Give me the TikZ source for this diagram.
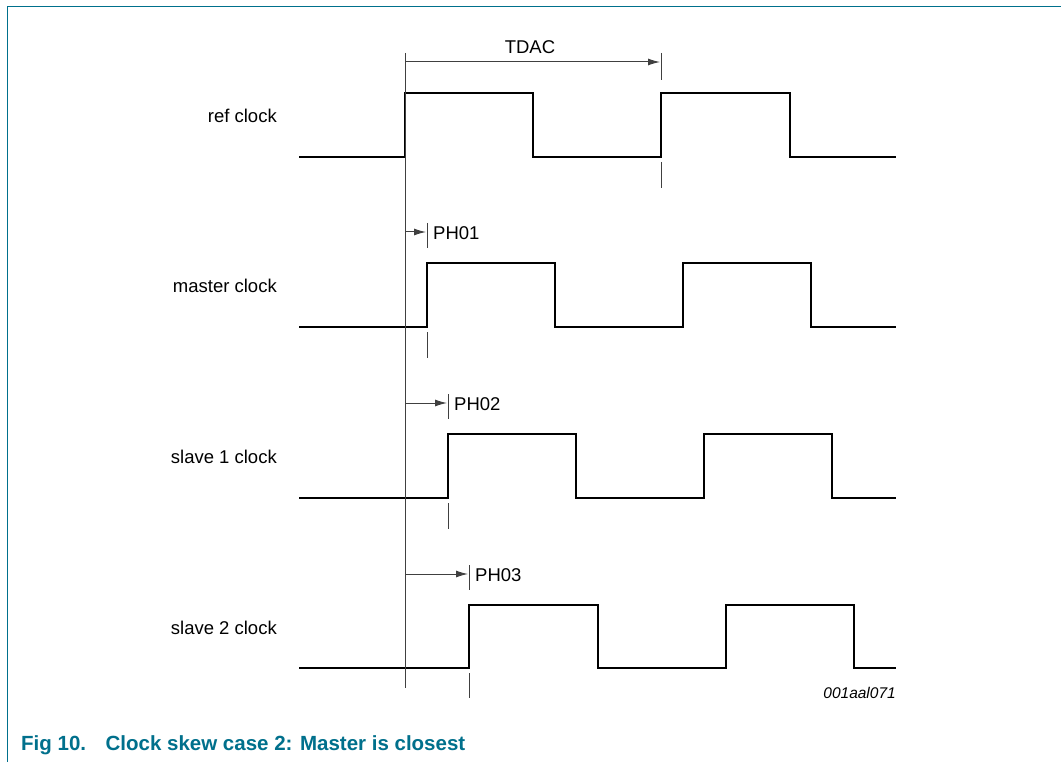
\documentclass[tikz,border=0pt]{standalone}
\usepackage{fontspec}
\setmainfont{Liberation Sans}
\usetikzlibrary{arrows.meta}
\definecolor{nxp}{RGB}{0,112,140}
\begin{document}
\begin{tikzpicture}[x=1pt,y=-1pt,
  wave/.style={line width=2.8pt,line join=miter,black},
  thin/.style={line width=1pt,black!75},
  dim/.style={line width=1pt,black!75,-{Latex[length=12pt,width=7pt]}},
  lbl/.style={font=\fontsize{18.5}{22}\selectfont,inner sep=0pt},
  sig/.style={lbl,anchor=east}]
\useasboundingbox (0,0) rectangle (1061,762);
\fill[white] (0,0) rectangle (1061,762);
\draw[nxp,line width=1.2pt] (7.5,762) -- (7.5,6.5) -- (1061,6.5);

% signal labels
\node[sig] (lref) at (277,116) {ref clock};
\node[sig] (lmas) at (277,286) {master clock};
\node[sig] (ls1) at (277,457) {slave 1 clock};
\node[sig] (ls2) at (277,628) {slave 2 clock};

% waveforms
\draw[wave] (299,157) -- (405,157) -- (405,93) -- (533,93) -- (533,157) -- (661,157) -- (661,93) -- (790,93) -- (790,157) -- (896,157);
\draw[wave] (299,327) -- (427,327) -- (427,263) -- (555,263) -- (555,327) -- (683,327) -- (683,263) -- (811,263) -- (811,327) -- (896,327);
\draw[wave] (299,498) -- (448,498) -- (448,434) -- (576,434) -- (576,498) -- (704,498) -- (704,434) -- (832,434) -- (832,498) -- (896,498);
\draw[wave] (299,668) -- (469,668) -- (469,605) -- (598,605) -- (598,668) -- (726,668) -- (726,605) -- (854,605) -- (854,668) -- (896,668);

% reference line
\coordinate (r0) at (405,53);
\coordinate (r1) at (405,688);
\draw[thin] (r0) -- (r1);

% TDAC
\coordinate (t0) at (661,53);
\coordinate (t1) at (661,80);
\coordinate (t2) at (661,162);
\coordinate (t3) at (661,188);
\draw[thin] (t0) -- (t1);
\draw[thin] (t2) -- (t3);
\coordinate (ta) at (405,62);
\coordinate (tb) at (660,62);
\draw[dim] (ta) -- (tb);
\node[lbl] (tdac) at (530,47) {TDAC};

% PH01
\coordinate (p1a) at (427,223);
\coordinate (p1b) at (427,248);
\coordinate (p1c) at (427,332);
\coordinate (p1d) at (427,358);
\draw[thin] (p1a) -- (p1b);
\draw[thin] (p1c) -- (p1d);
\coordinate (a1s) at (405,232);
\coordinate (a1e) at (426,232);
\draw[dim] (a1s) -- (a1e);
\node[lbl,anchor=west] (ph1) at (433,233) {PH01};

% PH02
\coordinate (p2a) at (448,394);
\coordinate (p2b) at (448,419);
\coordinate (p2c) at (448,503);
\coordinate (p2d) at (448,529);
\draw[thin] (p2a) -- (p2b);
\draw[thin] (p2c) -- (p2d);
\coordinate (a2s) at (405,403);
\coordinate (a2e) at (447,403);
\draw[dim] (a2s) -- (a2e);
\node[lbl,anchor=west] (ph2) at (454,404) {PH02};

% PH03
\coordinate (p3a) at (469,565);
\coordinate (p3b) at (469,590);
\coordinate (p3c) at (469,673);
\coordinate (p3d) at (469,698);
\draw[thin] (p3a) -- (p3b);
\draw[thin] (p3c) -- (p3d);
\coordinate (a3s) at (405,574);
\coordinate (a3e) at (468,574);
\draw[dim] (a3s) -- (a3e);
\node[lbl,anchor=west] (ph3) at (475,575) {PH03};

% code
\node[inner sep=0pt,anchor=east,font=\fontsize{15.5}{18}\selectfont\itshape] (code) at (896,693) {001aal071};

% caption
\node[inner sep=0pt,anchor=west,text=nxp,font=\fontsize{20.5}{24}\selectfont\bfseries] (cap) at (21,745) {Fig 10.\hspace{0.95em}Clock skew case 2: Master is closest};
\end{tikzpicture}
\end{document}
